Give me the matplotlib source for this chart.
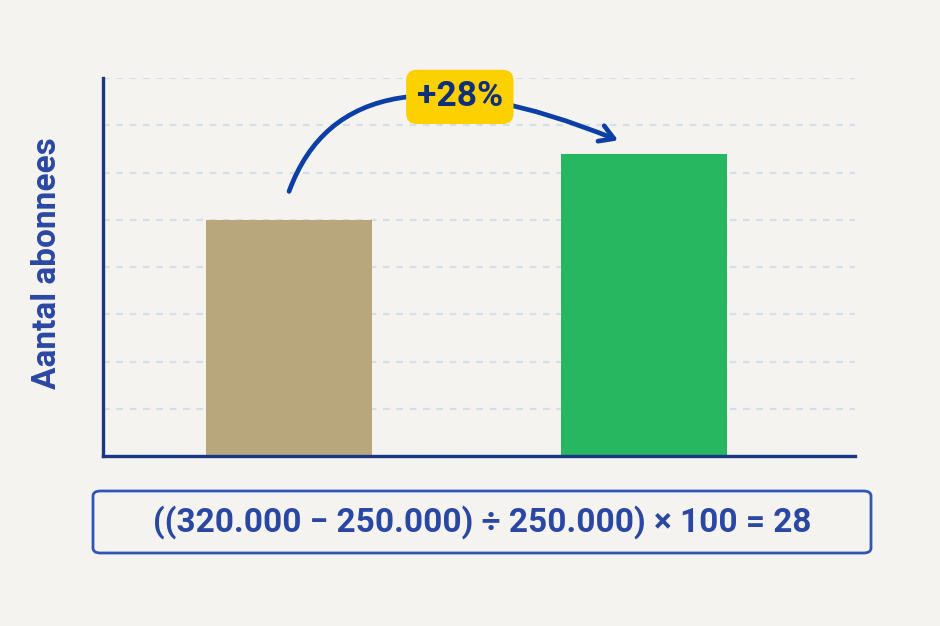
import matplotlib.pyplot as plt
from matplotlib.patches import FancyBboxPatch

# data
periods = ["voor", "na"]
subscribers = [250000, 320000]
bar_colors = ["#b8a77c", "#27b760"]
y_ticks = [0, 50000, 100000, 150000, 200000, 250000, 300000, 350000, 400000]

bg = "#f4f3f0"
navy = "#1b3784"
text_blue = "#2a47a3"

pct = round((subscribers[1] - subscribers[0]) / subscribers[0] * 100)

fig = plt.figure(figsize=(9.4, 6.26), dpi=100, facecolor=bg)
ax = fig.add_axes([103 / 940, 1 - 456 / 626, 752 / 940, 378 / 626])
ax.set_facecolor(bg)

x = list(range(len(periods)))
ax.bar(x, subscribers, width=0.468, color=bar_colors, zorder=3)

ax.set_xlim(-0.524, 1.594)
ax.set_ylim(0, 400000)
ax.set_yticks(y_ticks)
ax.set_xticks([])
ax.tick_params(axis="y", length=0, labelleft=False)
ax.grid(axis="y", color="#d6dfe9", linestyle=(0, (3, 3)), linewidth=1.6, zorder=0)

for side in ["top", "right"]:
    ax.spines[side].set_visible(False)
for side in ["left", "bottom"]:
    ax.spines[side].set_color(navy)
    ax.spines[side].set_linewidth(2.4)
    ax.spines[side].set_zorder(4)

fig.text(47 / 940, 1 - 263 / 626, "Aantal abonnees", rotation=90, ha="center", va="center",
         fontsize=24, fontweight="bold", color=text_blue, family="Roboto")

# curved arrow from first bar to second bar
ax.annotate("", xy=(0.927, subscribers[1] + 14000), xytext=(0, subscribers[0] + 30000),
            arrowprops=dict(arrowstyle="->,head_length=1.0,head_width=0.6", color="#0b3fa6", lw=3.4,
                            connectionstyle="angle3,angleA=70,angleB=-22", shrinkA=0, shrinkB=0),
            zorder=5)

ax.text(0.481, 380000, f"+{pct}%", ha="center", va="center", fontsize=25.5, fontweight="bold",
        color="#0f2f7a", family="Roboto", zorder=6,
        bbox=dict(boxstyle="round,pad=0.3,rounding_size=0.3", fc="#fdd000", ec="none"))

# formula box
box = FancyBboxPatch((93 / 940, 1 - 553 / 626), 778 / 940, 62 / 626,
                     boxstyle="round,pad=0,rounding_size=0.008", transform=fig.transFigure,
                     fc="none", ec="#2f55b5", lw=2)
fig.patches.append(box)
fig.text(482 / 940, 1 - 522 / 626,
         f"(({subscribers[1]/1000:.3f} \u2212 {subscribers[0]/1000:.3f}) \u00f7 {subscribers[0]/1000:.3f}) \u00d7 100 = {pct}",
         ha="center", va="center", fontsize=24, fontweight="bold", color=text_blue, family="Roboto")

fig.savefig("out.png", dpi=100, facecolor=bg)
